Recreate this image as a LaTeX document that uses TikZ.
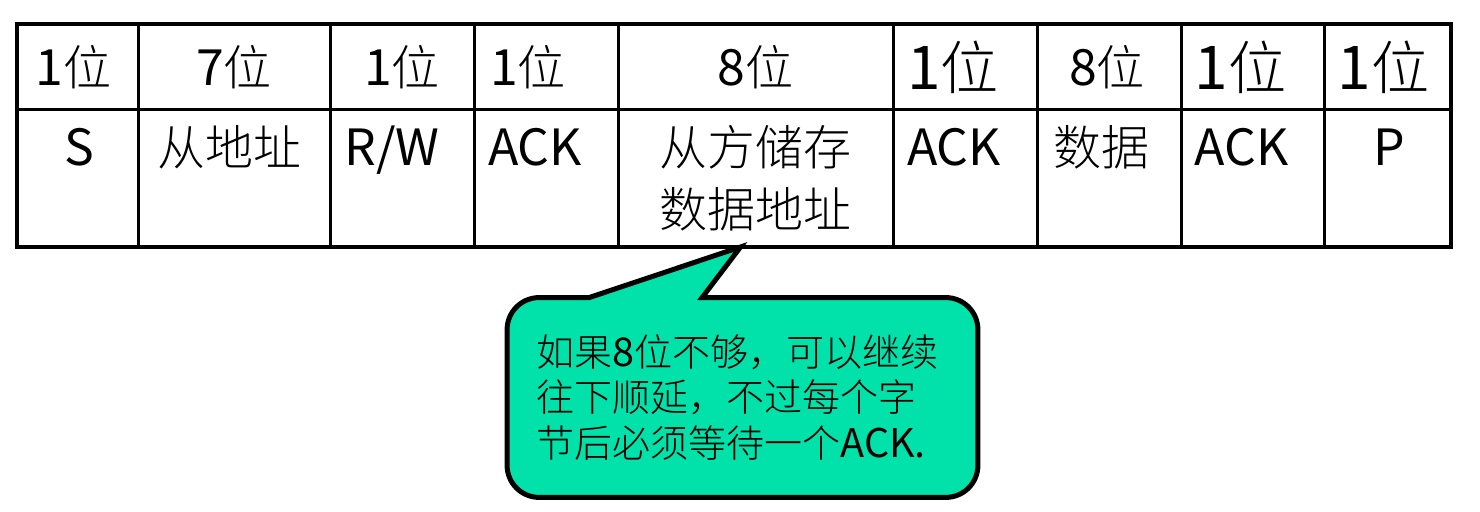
\documentclass[tikz,border=0pt]{standalone}
\usepackage{fontspec}
\setmainfont{Noto Sans CJK SC}[UprightFont={* Light}]
\newfontfamily\latinfont{Noto Sans CJK SC}[Scale=1.04]
\newcommand\lat[1]{{\latinfont #1}}
\usetikzlibrary{positioning}
\pgfdeclarelayer{back}
\pgfsetlayers{back,main}
\definecolor{notegreen}{RGB}{0,226,170}
\tikzstyle{cell}=[shape=rectangle,
                draw=black,
                line width=1.5pt,
                outer sep=0pt,
                inner sep=0pt]
\tikzstyle{hd}=[cell,
                minimum height=43pt]
\tikzstyle{bd}=[cell,
                minimum height=68.5pt]
\tikzstyle{ht}=[anchor=center,
                inner sep=0pt,
                font=\fontsize{24}{28}\selectfont]
\tikzstyle{htbig}=[ht,
                font=\fontsize{29}{34}\selectfont]
\tikzstyle{bt}=[anchor=base,
                inner sep=0pt,
                yshift=-28pt,
                font=\fontsize{24}{28}\selectfont]
\tikzstyle{frame}=[draw=black,
                line width=2.4pt]
\tikzstyle{note}=[shape=rectangle,
                inner xsep=14.5pt,
                inner ysep=0pt,
                text width=206pt,
                minimum height=99.5pt,
                align=left,
                font=\fontsize{19}{22.75}\selectfont]
\tikzstyle{notebox}=[draw=black,
                fill=notegreen,
                line width=2.5pt]

\begin{document}
\begin{tikzpicture}[x=0.5pt,y=-0.5pt]
\useasboundingbox (0,0) rectangle (1480,512);

\node[hd,minimum width=60.5pt]  (h1) at (77.5,67) [label={[ht,xshift=-2pt]center:\lat{1}位}] {};
\node[hd,minimum width=96pt]    (h2) [right=0pt of h1] [label={[ht]center:\lat{7}位}] {};
\node[hd,minimum width=72pt]    (h3) [right=0pt of h2] [label={[ht]center:\lat{1}位}] {};
\node[hd,minimum width=72pt]    (h4) [right=0pt of h3] [label={[ht,xshift=-9pt]center:\lat{1}位}] {};
\node[hd,minimum width=137.5pt] (h5) [right=0pt of h4] [label={[ht]center:\lat{8}位}] {};
\node[hd,minimum width=72pt]    (h6) [right=0pt of h5] [label={[htbig,xshift=-6pt]center:\lat{1}位}] {};
\node[hd,minimum width=72pt]    (h7) [right=0pt of h6] [label={[ht,xshift=-1pt]center:\lat{8}位}] {};
\node[hd,minimum width=71.5pt]  (h8) [right=0pt of h7] [label={[htbig,xshift=-6pt]center:\lat{1}位}] {};
\node[hd,minimum width=63.5pt]  (h9) [right=0pt of h8] [label={[htbig,xshift=-2pt]center:\lat{1}位}] {};

\node[bd,minimum width=60.5pt]  (b1) [below=0pt of h1] [label={[bt,xshift=1pt]north:\lat{S}}] {};
\node[bd,minimum width=96pt]    (b2) [below=0pt of h2] [label={[bt,xshift=-2.5pt]north:从地址}] {};
\node[bd,minimum width=72pt]    (b3) [below=0pt of h3] [label={[bt,xshift=-5pt]north:\lat{R/W}}] {};
\node[bd,minimum width=72pt]    (b4) [below=0pt of h4] [label={[bt,xshift=-5.5pt]north:\lat{ACK}}] {};
\node[bd,minimum width=137.5pt] (b5) [below=0pt of h5]
     [label={[bt]north:从方储存}, label={[bt,yshift=-31pt]north:数据地址}] {};
\node[bd,minimum width=72pt]    (b6) [below=0pt of h6] [label={[bt,xshift=-5.5pt]north:\lat{ACK}}] {};
\node[bd,minimum width=72pt]    (b7) [below=0pt of h7] [label={[bt,xshift=-4pt]north:数据}] {};
\node[bd,minimum width=71.5pt]  (b8) [below=0pt of h8] [label={[bt,xshift=-5.5pt]north:\lat{ACK}}] {};
\node[bd,minimum width=63.5pt]  (b9) [below=0pt of h9] [label={[bt,xshift=1pt]north:\lat{P}}] {};

\draw[frame] (h1.north west) rectangle (b9.south east);

\node[note] (note) at (742.5,397.5) {如果\lat{8}位不够，可以继续\\往下顺延，不过每个字\\节后必须等待一个\lat{ACK.}};
\coordinate (tip) at ([xshift=-7.5pt]b5.south);

\begin{pgfonlayer}{back}
\draw[notebox] ([xshift=97.5pt]note.north west) [rounded corners=16pt]
      -- (note.north east) -- (note.south east) -- (note.south west)
      -- (note.north west) [sharp corners] -- ([xshift=41pt]note.north west)
      -- (tip) -- cycle;
\end{pgfonlayer}
\end{tikzpicture}
\end{document}
